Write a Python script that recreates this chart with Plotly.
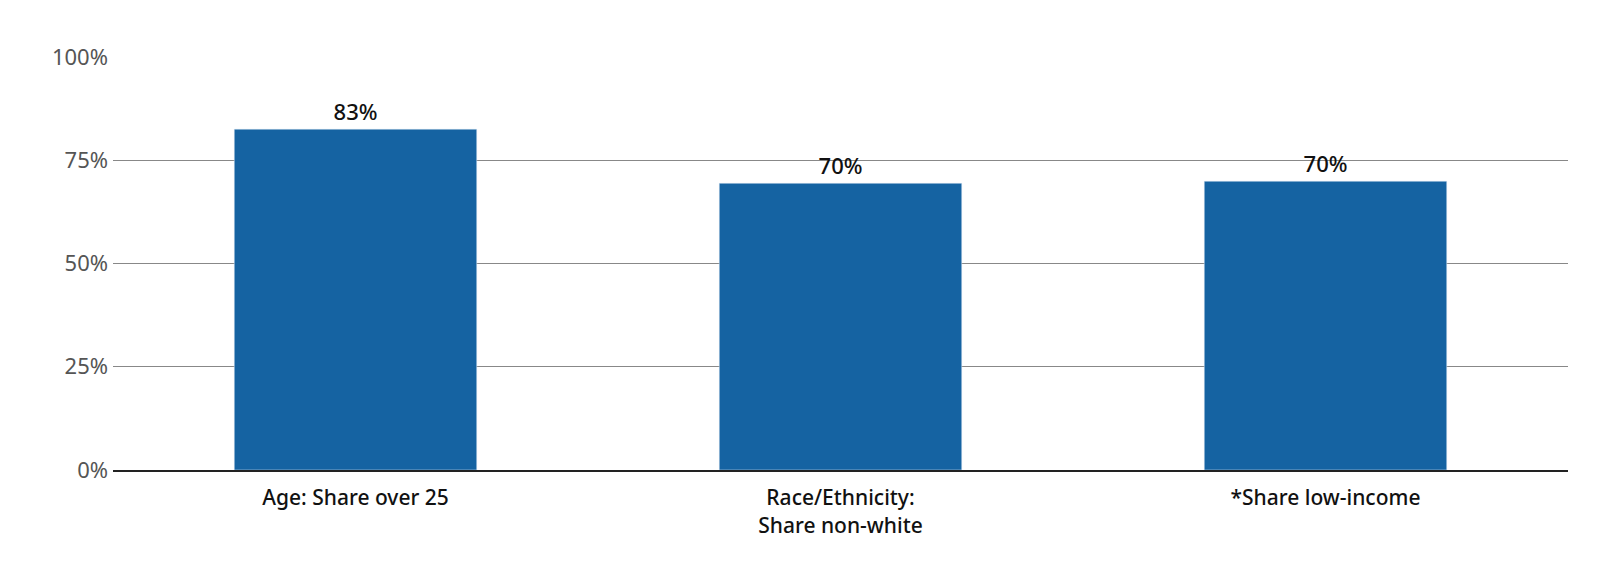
import plotly.graph_objects as go

categories = ["Age: Share over 25", "Race/Ethnicity:<br>Share non-white", "*Share low-income"]
values = [82.5, 69.4, 69.9]
labels = ["83%", "70%", "70%"]
tick_vals = [0, 25, 50, 75, 100]
tick_text = ["0%", "25%", "50%", "75%", "100%"]

fig = go.Figure(go.Bar(
    x=categories, y=values, text=labels, textposition="outside",
    marker_color="#1563a2", width=0.5,
    textfont=dict(size=22, color="#111", family="Noto Sans", weight=500),
    cliponaxis=False,
))

fig.update_layout(
    width=1600, height=566,
    margin=dict(l=105, r=40, t=48, b=104),
    plot_bgcolor="white", paper_bgcolor="white",
    font=dict(family="Noto Sans", size=20, color="#111"),
    showlegend=False,
)
fig.update_yaxes(range=[0, 100.2], tickvals=tick_vals, ticktext=tick_text,
                 gridcolor="#888", gridwidth=1, tickfont=dict(size=22, color="#555"),
                 ticklabelstandoff=4, zeroline=False)
fig.update_xaxes(showline=True, linecolor="#222", linewidth=2,
                 ticklabelstandoff=8,
                 tickfont=dict(size=21, color="#111", weight=500))

fig.write_html("out.html")
